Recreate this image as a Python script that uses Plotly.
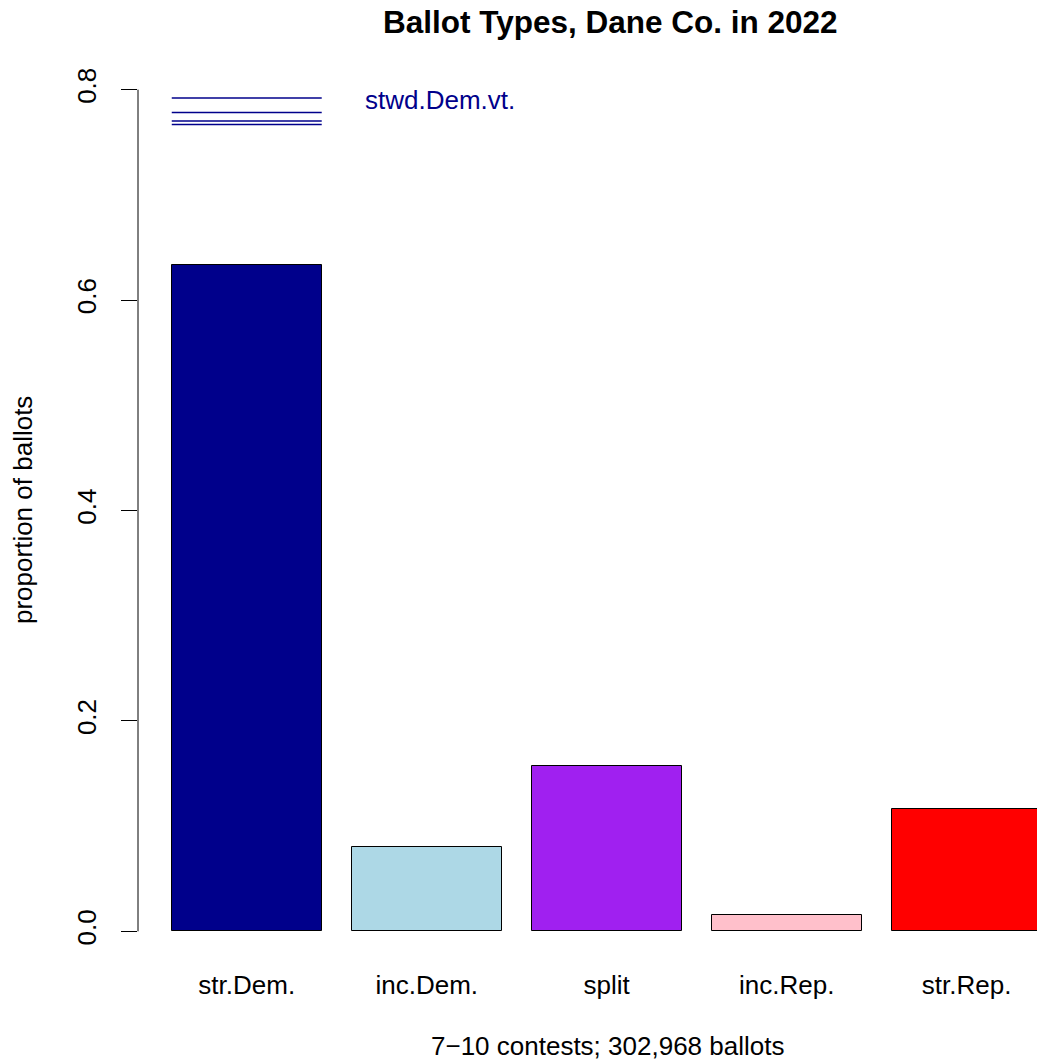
import plotly.graph_objects as go

# ---- data ----
categories = ["str.Dem.", "inc.Dem.", "split", "inc.Rep.", "str.Rep."]
proportions = [0.633, 0.0804, 0.1576, 0.0159, 0.1165]
bar_colors = ["#00008B", "#ADD8E6", "#A020F0", "#FFC0CB", "#FF0000"]
stwd_dem_vote = [0.792, 0.7784, 0.7702, 0.7668]
stwd_label = "stwd.Dem.vt."
y_ticks = [0.0, 0.2, 0.4, 0.6, 0.8]
y_ticktext = ["0.0", "0.2", "0.4", "0.6", "0.8"]
title_text = "Ballot Types, Dane Co. in 2022"
x_title = "7\u221210 contests; 302,968 ballots"
y_title = "proportion of ballots"

# R barplot geometry: width 1, space 0.2
bar_width = 1.0
space = 0.2
centers = [space + bar_width / 2 + i * (bar_width + space) for i in range(len(categories))]

FONT = "Liberation Sans, Arial, Helvetica, sans-serif"
W, H = 1037, 1062
ML, MR, MT, MB = 138, 0, 56, 97

fig = go.Figure()
fig.add_trace(go.Bar(
    x=centers, y=proportions, width=bar_width,
    marker=dict(color=bar_colors, line=dict(color="black", width=1)),
    showlegend=False, hoverinfo="skip",
))

left = centers[0] - bar_width / 2
right = centers[0] + bar_width / 2
for v in stwd_dem_vote:
    fig.add_trace(go.Scatter(
        x=[left, right], y=[v, v], mode="lines",
        line=dict(color="#00008B", width=1.5), showlegend=False, hoverinfo="skip",
    ))

fig.add_annotation(
    x=1.475, y=0.79, xref="x", yref="y", text=stwd_label, showarrow=False,
    xanchor="left", yanchor="middle", font=dict(family=FONT, size=26, color="#00008B"),
)

# y axis line from 0 to 0.8 only (R style)
fig.add_shape(type="line", xref="paper", yref="y", x0=0, x1=0, y0=y_ticks[0], y1=y_ticks[-1],
              line=dict(color="black", width=1))

pw = W - ML - MR
ph = H - MT - MB
def px_to_paper_x(px):
    return (px - ML) / pw
def px_to_paper_y(py):
    return (H - MB - py) / ph

fig.add_annotation(x=px_to_paper_x(610), y=px_to_paper_y(22), xref="paper", yref="paper",
                   text="<b>" + title_text + "</b>", showarrow=False,
                   xanchor="center", yanchor="middle",
                   font=dict(family=FONT, size=31.5, color="black"))
fig.add_annotation(x=px_to_paper_x(607.5), y=px_to_paper_y(1046), xref="paper", yref="paper",
                   text=x_title, showarrow=False, xanchor="center", yanchor="middle",
                   font=dict(family=FONT, size=26, color="black"))
fig.add_annotation(x=px_to_paper_x(23), y=px_to_paper_y(510), xref="paper", yref="paper",
                   text=y_title, showarrow=False, xanchor="center", yanchor="middle",
                   textangle=-90, font=dict(family=FONT, size=26, color="black"))

fig.update_layout(
    width=W, height=H,
    margin=dict(l=ML, r=MR, t=MT, b=MB, pad=0),
    plot_bgcolor="white", paper_bgcolor="white",
    font=dict(family=FONT, size=26, color="black"),
    bargap=0,
    xaxis=dict(range=[-0.025, 5.969], tickmode="array", tickvals=centers, ticktext=categories,
               showgrid=False, zeroline=False, showline=False, ticks="",
               tickfont=dict(family=FONT, size=26), ticklabelstandoff=2),
    yaxis=dict(range=[-0.032, 0.832], tickmode="array", tickvals=y_ticks, ticktext=y_ticktext,
               showgrid=False, zeroline=False, showline=False, ticks="outside", ticklen=16,
               tickcolor="black", tickwidth=1, tickangle=-90,
               tickfont=dict(family=FONT, size=26), ticklabelstandoff=15),
)

fig.write_html("out.html", config={"displayModeBar": False},
               post_script="document.body.style.margin='0';document.body.style.overflow='hidden';")
